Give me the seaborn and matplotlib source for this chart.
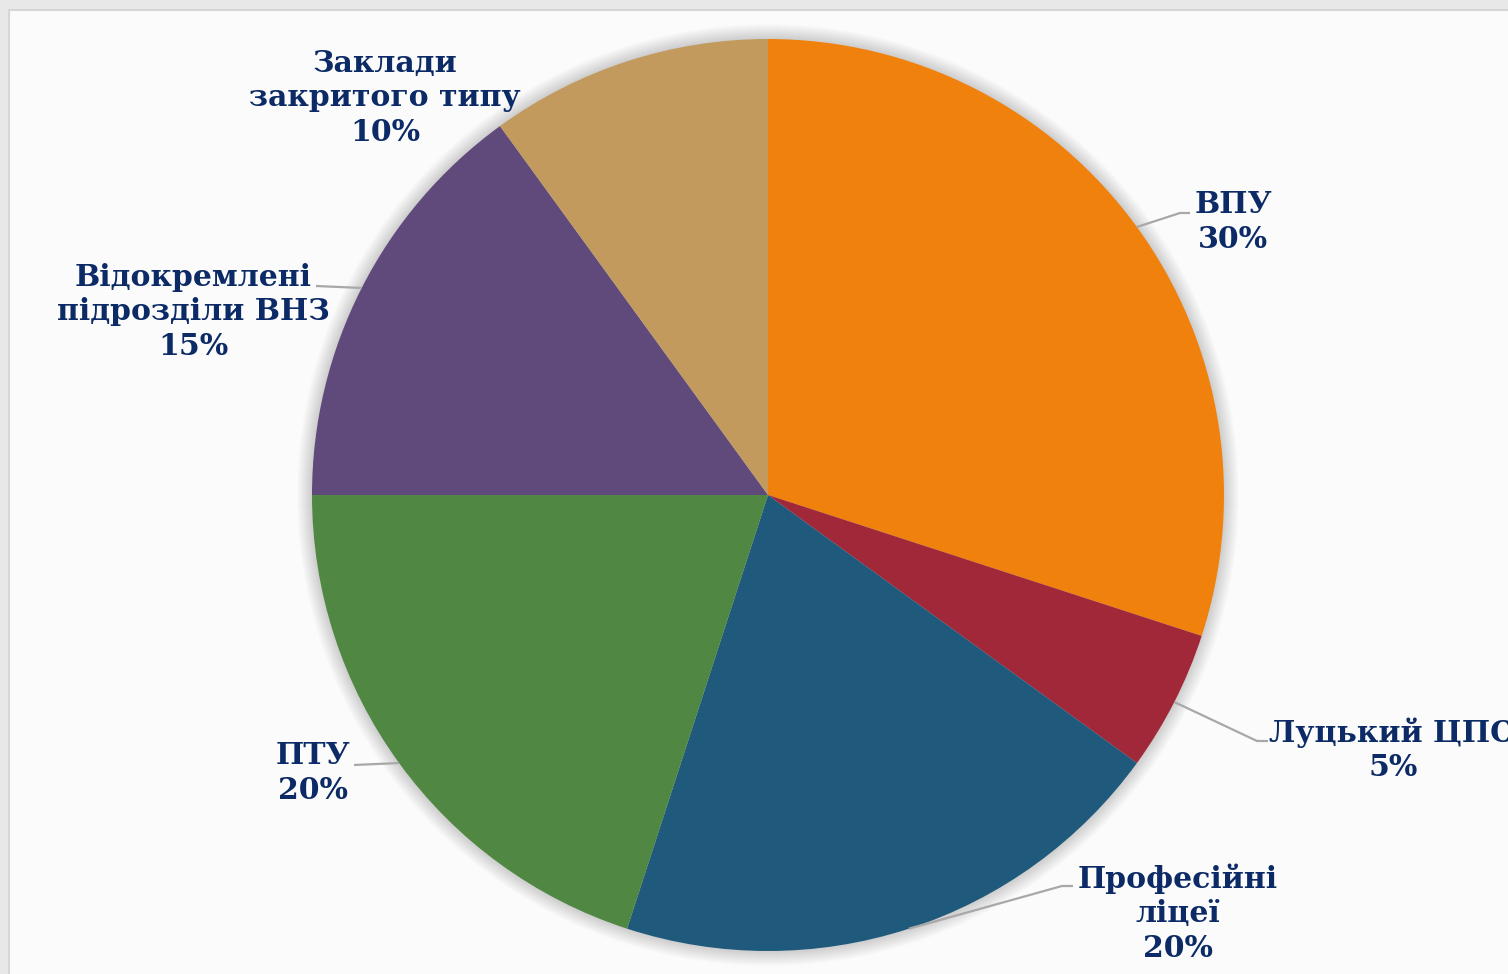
import matplotlib.pyplot as plt
import matplotlib.patches as mpatches
import numpy as np
import seaborn as sns

# data
categories = ['ВПУ', 'Луцький ЦПО', 'Професійні\nліцеї', 'ПТУ',
              'Відокремлені\nпідрозділи ВНЗ', 'Заклади\nзакритого типу']
shares = [30, 5, 20, 20, 15, 10]
slice_colors = ['#F0810D', '#A02838', '#1F5A7C', '#508742', '#604A7B', '#C29A5D']

# layout in pixel coords (y measured from top)
W, H = 1508, 974
cx, cy, R = 768, 495, 456
label_pos = [(1233, 222), (1393, 750), (1178, 913), (313, 773), (193, 312), (385, 98)]
leader_pts = [[(1180, 213), (1190, 213)],
              [(1257, 741), (1268, 741)],
              [(1062, 886), (1073, 886)],
              [(354, 765)],
              [(316, 286)],
              None]

sns.set_theme(style='white')
palette = sns.color_palette(slice_colors)

fig = plt.figure(figsize=(W / 100, H / 100), dpi=100, facecolor='#e8e8e8')
ax = fig.add_axes([0, 0, 1, 1])
ax.set_facecolor('none')

# white panel behind the chart
ax.add_patch(mpatches.Rectangle((9, -5), W, H - 10 + 5, facecolor='#fbfbfb',
                                edgecolor='#d6d6d6', lw=1.5, zorder=0))

# soft glow around the pie
for k in range(1, 16):
    ax.add_patch(mpatches.Circle((cx, H - cy), R + k, color='black', alpha=0.011,
                                 lw=0, zorder=0.5))

wedges, _ = ax.pie(shares, colors=palette, startangle=90, counterclock=False,
                   radius=R, center=(cx, H - cy), wedgeprops=dict(linewidth=0))

for w, name, val, pos, pts in zip(wedges, categories, shares, label_pos, leader_pts):
    if pts is not None:
        mid = np.deg2rad((w.theta1 + w.theta2) / 2)
        xs = [cx + R * np.cos(mid)] + [p[0] for p in pts]
        ys = [H - cy + R * np.sin(mid)] + [H - p[1] for p in pts]
        ax.plot(xs, ys, color='#a8a8a8', lw=1.6, zorder=3, solid_capstyle='butt')
    ax.text(pos[0], H - pos[1], f'{name}\n{val}%', ha='center', va='center',
            multialignment='center', fontsize=21.5, fontweight='bold',
            family=['DejaVu Serif'], color='#0B2A66', linespacing=1.23, zorder=4)

ax.set_xlim(0, W)
ax.set_ylim(0, H)
ax.set_aspect('equal')
ax.axis('off')

fig.savefig('out.png', dpi=100, facecolor=fig.get_facecolor())
